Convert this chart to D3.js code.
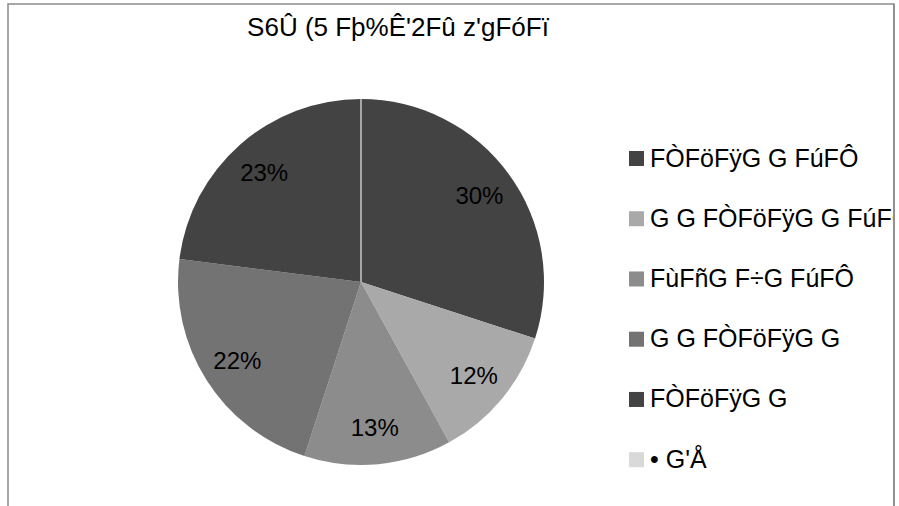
<!DOCTYPE html>
<html><head><meta charset="utf-8">
<script src="https://cdn.jsdelivr.net/npm/d3@7"></script>
<style>body{margin:0;background:#fff}svg{display:block;font-family:"Liberation Sans",Arial,sans-serif}</style>
</head><body>
<svg id="c" width="899" height="506"></svg>
<script>
const title = "S6Û (5 Fþ%Ê'2Fû z'gFóFï";
const categories = ["FÒFöFÿG G FúFÔ", "G G FÒFöFÿG G FúFÔ", "FùFñG F÷G FúFÔ", "G G FÒFöFÿG G", "FÒFöFÿG G", "• G'Å"];
const values = [30, 12, 13, 22, 23, 0];
const colors = ["#434343", "#a9a9a9", "#8c8c8c", "#737373", "#434343", "#d9d9d9"];

const svg = d3.select("#c");
svg.append("rect").attr("x", 8).attr("y", 4).attr("width", 886).attr("height", 520)
  .attr("fill", "#fff").attr("stroke", "#8a8a8a").attr("stroke-width", 1.5);

svg.append("text").attr("x", 398).attr("y", 36).attr("text-anchor", "middle")
  .attr("font-size", 26).attr("fill", "#000").text(title);

const cx = 361, cy = 282, r = 183;
const total = d3.sum(values);
const pie = d3.pie().sort(null).value(d => d)(values);
const arc = d3.arc().innerRadius(0).outerRadius(r);
const labelArc = d3.arc().innerRadius(r * 0.8).outerRadius(r * 0.8);
const color = d3.scaleOrdinal().domain(d3.range(values.length)).range(colors);

const g = svg.append("g").attr("transform", `translate(${cx},${cy})`);
g.selectAll("path.s").data(pie).join("path").attr("class", "s")
  .attr("d", arc).attr("fill", (d, i) => color(i))
  .attr("stroke", d => d.value === 0 ? "#a6a6a6" : "none")
  .attr("stroke-width", d => d.value === 0 ? 2 : 0);
g.selectAll("text").data(pie.filter(d => d.value > 0)).join("text")
  .attr("transform", d => `translate(${labelArc.centroid(d)})`)
  .attr("text-anchor", "middle").attr("dy", "0.35em")
  .attr("font-size", 24).attr("fill", "#000")
  .text(d => Math.round(d.value / total * 100) + "%");

const clip = svg.append("clipPath").attr("id", "lc");
clip.append("rect").attr("x", 0).attr("y", 0).attr("width", 893).attr("height", 506);
const lg = svg.append("g").attr("clip-path", "url(#lc)");
const rowY = d3.scalePoint().domain(d3.range(categories.length)).range([158.5, 459.7]);
const items = lg.selectAll("g").data(categories).join("g")
  .attr("transform", (d, i) => `translate(629,${rowY(i)})`);
items.append("rect").attr("x", 0).attr("y", -7.5).attr("width", 15).attr("height", 15)
  .attr("fill", (d, i) => color(i));
items.append("text").attr("x", 21).attr("y", 8).attr("font-size", 25)
  .attr("fill", "#000").text(d => d);
svg.append("line").attr("x1", 894).attr("x2", 894).attr("y1", 4).attr("y2", 506)
  .attr("stroke", "#8a8a8a").attr("stroke-width", 1.5);
</script>
</body></html>
